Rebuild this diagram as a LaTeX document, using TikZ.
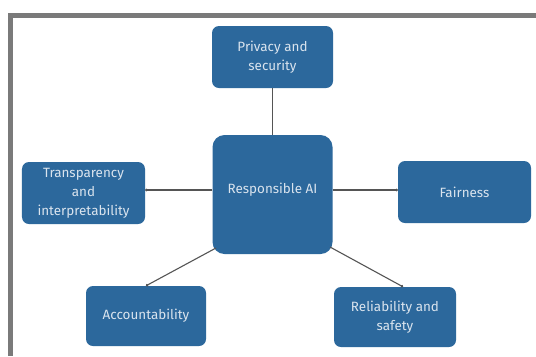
\documentclass[tikz,border=0pt]{standalone}
\usepackage{fontspec}
\setmainfont{Fira Sans}
\usetikzlibrary{arrows.meta}
\definecolor{boxblue}{RGB}{44,104,156}
\definecolor{boxtext}{RGB}{218,228,238}
\definecolor{framegray}{RGB}{122,122,122}
\definecolor{linegray}{RGB}{85,85,85}
\begin{document}
\begin{tikzpicture}[x=1bp,y=-1bp,
  topic/.style={fill=boxblue,draw=none,rounded corners=7bp,inner sep=0pt,
    text=boxtext,align=center,font=\fontsize{13.5}{19}\selectfont},
  link/.style={draw=linegray,line width=1.1bp,-{Circle[length=2.5bp]}}]
\useasboundingbox (0,0) rectangle (536,356);
\fill[white] (0,0) rectangle (536,356);
% frame
\fill[framegray] (8,13) rectangle (536,18);
\fill[framegray] (8,13) rectangle (13,356);
% nodes
\node[topic,minimum width=121bp,minimum height=62bp] (priv) at (272.5,57) {Privacy and\\security};
\node[topic,minimum width=120bp,minimum height=119bp,rounded corners=12bp] (resp) at (272.5,194.5) {};
\node[text=boxtext,font=\fontsize{13.5}{19}\selectfont,inner sep=0pt] (resplabel) at (272.5,190) {Responsible AI};
\node[topic,minimum width=123bp,minimum height=62bp] (trans) at (83.5,193) {Transparency\\and\\interpretability};
\node[topic,minimum width=133bp,minimum height=62bp] (fair) at (464.5,192) {Fairness};
\node[topic,minimum width=120bp,minimum height=60bp] (acc) at (146,316) {Accountability};
\node[topic,minimum width=122bp,minimum height=60bp] (rel) at (395,317) {Reliability and\\safety};
% connectors
\draw[draw=linegray,line width=1.3bp] (priv.south) -- (resp.north);
\draw[link] (resp.west |- 0,190) -- (trans.east |- 0,190);
\draw[link] (resp.east |- 0,190) -- (fair.west |- 0,190);
\coordinate (rsw) at (216,248);
\coordinate (rse) at (330,247);
\draw[link] (rsw) -- (acc.north);
\draw[link] (rse) -- ([xshift=8bp]rel.north);
\end{tikzpicture}
\end{document}
